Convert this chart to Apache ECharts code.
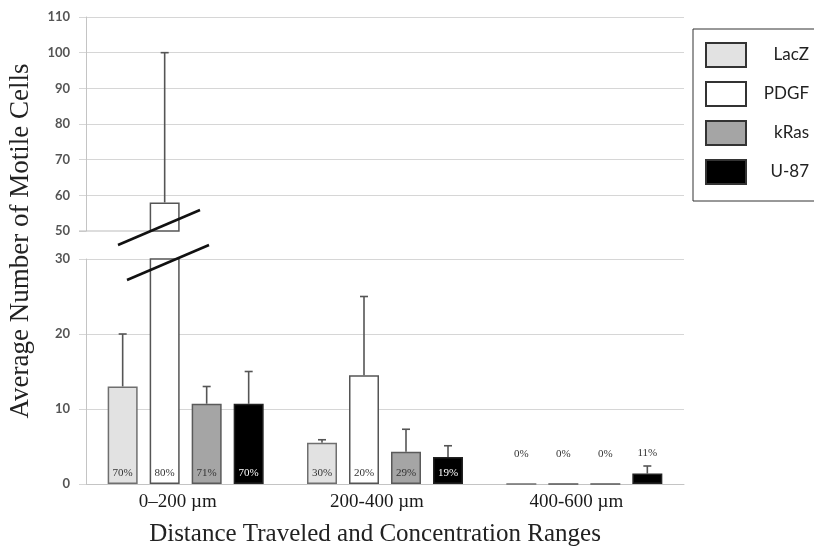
<!DOCTYPE html>
<html>
<head>
<meta charset="utf-8">
<script src="https://cdn.jsdelivr.net/npm/echarts@6/dist/echarts.min.js"></script>
<style>
  html, body { margin: 0; padding: 0; background: #fff; }
  #chart { width: 814px; height: 551px; }
</style>
</head>
<body>
<div id="chart"></div>
<script>
// data
var categories = ["0\u2013200 \u00b5m", "200-400 \u00b5m", "400-600 \u00b5m"];
var seriesNames = ["LacZ", "PDGF", "kRas", "U-87"];
var lacz = [13, 5.5, 0];
var pdgf = [58, 14.5, 0];
var kras = [10.7, 4.3, 0];
var u87 = [10.7, 3.6, 1.4];
var laczErr = [20, 5.9, null];
var pdgfErr = [100, 25, null];
var krasErr = [13, 7.3, null];
var u87Err = [15, 5.1, 2.4];
var laczPct = ["70%", "30%", "0%"];
var pdgfPct = ["80%", "20%", "0%"];
var krasPct = ["71%", "29%", "0%"];
var u87Pct = ["70%", "19%", "11%"];

var lowerTicks = [0, 30, 10];   // min, max, interval
var upperTicks = [50, 110, 10];

var chart = echarts.init(document.getElementById("chart"));

var values = [lacz, pdgf, kras, u87];
var errs = [laczErr, pdgfErr, krasErr, u87Err];
var pcts = [laczPct, pdgfPct, krasPct, u87Pct];
var fills = ["#e2e2e2", "#ffffff", "#a5a5a5", "#000000"];
var borders = ["#6f6f6f", "#555555", "#5a5a5a", "#222222"];
var pctColors = ["#333", "#333", "#333", "#fff"];

var SERIF = "'Liberation Serif', 'DejaVu Serif', serif";
var SANS = "Lato, 'Open Sans', sans-serif";
var gridColor = "#d6d6d6";

// error bar points: [category, series index, value, top]
var errData = [];
for (var s = 0; s < 4; s++) {
  for (var c = 0; c < categories.length; c++) {
    if (errs[s][c] != null) errData.push([c, s, values[s][c], errs[s][c]]);
  }
}

function renderErr(params, api) {
  var c = api.value(0), s = api.value(1);
  var x = api.coord([c, 0])[0] + (s - 1.5) * 42;
  var y0 = api.coord([c, api.value(2)])[1];
  var y1 = api.coord([c, api.value(3)])[1];
  var st = { stroke: "#555", lineWidth: 1.6 };
  return {
    type: "group",
    children: [
      { type: "line", shape: { x1: x, y1: y0, x2: x, y2: y1 }, style: st },
      { type: "line", shape: { x1: x - 4, y1: y1, x2: x + 4, y2: y1 }, style: st }
    ]
  };
}

var series = [];
// lower panel (0-30) and upper panel (50-110) each draw all bars, clipped
[0, 1].forEach(function(g) {
  for (var s = 0; s < 4; s++) {
    series.push({
      name: seriesNames[s],
      type: "bar",
      xAxisIndex: g,
      yAxisIndex: g,
      barWidth: 30,
      barGap: "40%",
      clip: true,
      data: values[s].map(function(v, c) {
        var item = { value: v };
        if (g === 0) {
          item.label = {
            show: true,
            formatter: pcts[s][c],
            position: "insideBottom",
            offset: c === 2 ? [0, -20] : [0, 0],
            color: c === 2 ? "#333" : pctColors[s]
          };
        }
        return item;
      }),
      itemStyle: { color: fills[s], borderColor: borders[s], borderWidth: 1.5 },
      label: { fontFamily: SERIF, fontSize: 11, distance: 5 },
      emphasis: { disabled: true },
      z: 2
    });
  }
  series.push({
    type: "custom",
    xAxisIndex: g,
    yAxisIndex: g,
    clip: true,
    renderItem: renderErr,
    encode: { x: 0, y: [2, 3] },
    data: errData,
    z: 1
  });
});

var yAxisBase = function(ticks, grid) {
  return {
    type: "value",
    gridIndex: grid,
    min: ticks[0],
    max: ticks[1],
    interval: ticks[2],
    axisLine: { show: true, lineStyle: { color: "#c4c4c4", width: 1 } },
    axisTick: { show: true, length: 7, lineStyle: { color: gridColor } },
    axisLabel: { color: "#555", fontFamily: SANS, fontSize: 13, fontWeight: "bold", margin: 16 },
    splitLine: { show: true, showMinLine: grid === 0, lineStyle: { color: gridColor, width: 1 } }
  };
};

var option = {
  backgroundColor: "#fff",
  animation: false,
  grid: [
    { left: 86, right: 130, top: 259, height: 225 },
    { left: 86, right: 130, top: 17, height: 214 }
  ],
  xAxis: [
    {
      type: "category",
      gridIndex: 0,
      data: categories,
      axisLine: { show: true, lineStyle: { color: "#c4c4c4" } },
      axisTick: { show: false },
      axisLabel: { color: "#1a1a1a", fontFamily: SERIF, fontSize: 19, margin: 9, padding: [0, 16, 0, 0] },
      name: "Distance Traveled and Concentration Ranges",
      nameLocation: "middle",
      nameGap: 38,
      nameTextStyle: { color: "#222", fontFamily: SERIF, fontSize: 25, padding: [0, 20, 0, 0] }
    },
    {
      type: "category",
      gridIndex: 1,
      data: categories,
      axisLine: { show: false },
      axisTick: { show: false },
      axisLabel: { show: false }
    }
  ],
  yAxis: [yAxisBase(lowerTicks, 0), yAxisBase(upperTicks, 1)],
  legend: {
    data: seriesNames,
    orient: "vertical",
    left: 693,
    top: 29,
    padding: [13, 20, 16, 12],
    itemWidth: 40,
    itemHeight: 24,
    itemGap: 13,
    icon: "rect",
    borderColor: "#333",
    borderWidth: 1,
    itemStyle: { borderWidth: 2, borderColor: "#333" },
    formatter: "{r|{name}}",
    textStyle: {
      color: "#222",
      fontFamily: SANS,
      fontSize: 17,
      rich: { r: { width: 46, align: "right", padding: [0, 0, 0, 12], fontFamily: SANS, fontSize: 17, color: "#222" } }
    }
  },
  graphic: [
    {
      type: "text",
      x: 21,
      y: 241,
      rotation: Math.PI / 2,
      style: {
        text: "Average Number of Motile Cells",
        fill: "#222",
        font: "27px " + SERIF,
        align: "center",
        verticalAlign: "middle"
      }
    },
    // short baseline of the upper panel
    { type: "line", shape: { x1: 79, y1: 231, x2: 151, y2: 231 }, style: { stroke: "#bbb", lineWidth: 1 }, z: 1 },
    // axis break marks
    { type: "line", shape: { x1: 118, y1: 245, x2: 200, y2: 210 }, style: { stroke: "#111", lineWidth: 2.5 }, z: 10 },
    { type: "line", shape: { x1: 127, y1: 280, x2: 209, y2: 245 }, style: { stroke: "#111", lineWidth: 2.5 }, z: 10 }
  ],
  series: series
};

chart.setOption(option);
</script>
</body>
</html>
